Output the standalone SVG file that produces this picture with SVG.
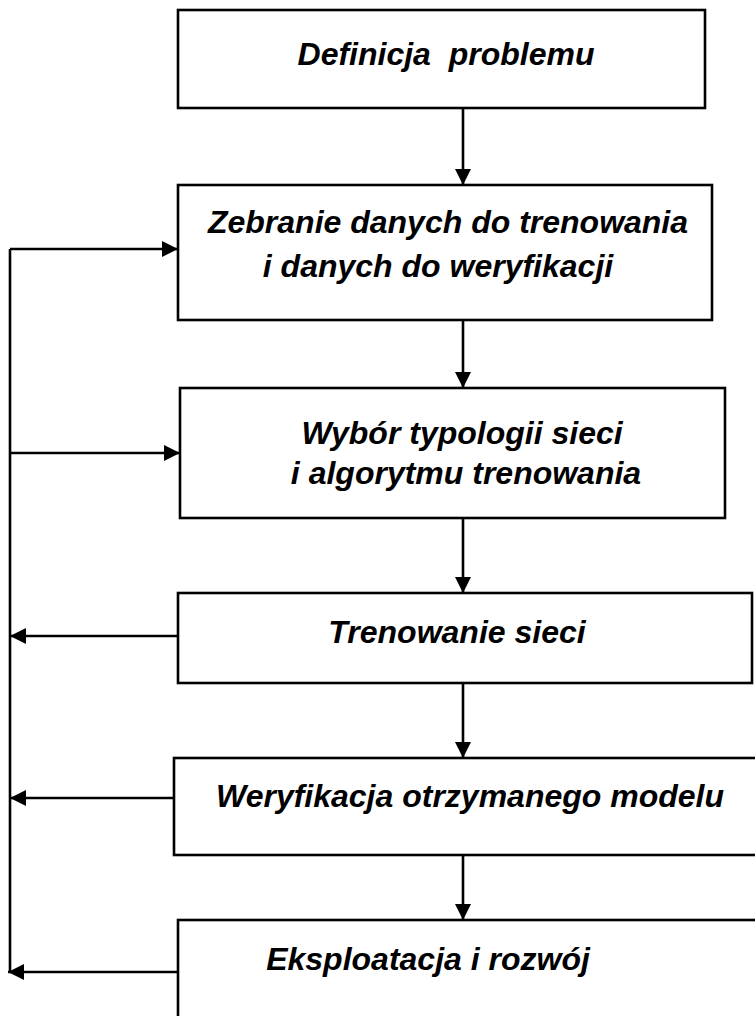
<svg xmlns="http://www.w3.org/2000/svg" width="755" height="1016" viewBox="0 0 755 1016">
  <style>
    .box { fill: #fff; stroke: #000; stroke-width: 2.6; }
    .lbl { font-family: "Liberation Sans", Arial, sans-serif; font-weight: bold; font-style: italic; font-size: 32px; fill: #000; text-anchor: middle; white-space: pre; }
    .wire { fill: none; stroke: #000; stroke-width: 2.6; }
  </style>
  <defs>
    <marker id="head" viewBox="0 0 10 10" refX="10" refY="5" markerWidth="17" markerHeight="16" markerUnits="userSpaceOnUse" orient="auto">
      <path d="M0,0 L10,5 L0,10 Z" fill="#000"/>
    </marker>
  </defs>
  <rect width="755" height="1016" fill="#fff"/>

  <g id="node-definicja">
    <rect class="box" x="178" y="10" width="527" height="98"/>
    <text class="lbl" x="446" y="65" xml:space="preserve">Definicja  problemu</text>
  </g>
  <g id="node-zebranie">
    <rect class="box" x="178" y="185" width="534" height="135"/>
    <text class="lbl" x="448" y="233">Zebranie danych do trenowania</text>
    <text class="lbl" x="438" y="277">i danych do weryfikacji</text>
  </g>
  <g id="node-wybor">
    <rect class="box" x="180" y="388" width="545" height="130"/>
    <text class="lbl" x="462" y="444">Wybór typologii sieci</text>
    <text class="lbl" x="466" y="484">i algorytmu trenowania</text>
  </g>
  <g id="node-trenowanie">
    <rect class="box" x="178" y="593" width="574" height="90"/>
    <text class="lbl" x="457" y="643">Trenowanie sieci</text>
  </g>
  <g id="node-weryfikacja">
    <rect class="box" x="174" y="758" width="590" height="97"/>
    <text class="lbl" x="470" y="807">Weryfikacja otrzymanego modelu</text>
  </g>
  <g id="node-eksploatacja">
    <rect class="box" x="178" y="920" width="590" height="110"/>
    <text class="lbl" x="428" y="970">Eksploatacja i rozwój</text>
  </g>

  <g id="connectors">
    <!-- main flow -->
    <line class="wire" x1="463" y1="108" x2="463" y2="185" marker-end="url(#head)"/>
    <line class="wire" x1="463" y1="320" x2="463" y2="388" marker-end="url(#head)"/>
    <line class="wire" x1="463" y1="518" x2="463" y2="593" marker-end="url(#head)"/>
    <line class="wire" x1="463" y1="683" x2="463" y2="758" marker-end="url(#head)"/>
    <line class="wire" x1="463" y1="855" x2="463" y2="920" marker-end="url(#head)"/>
    <!-- feedback bus -->
    <line class="wire" x1="10" y1="249" x2="10" y2="972"/>
    <line class="wire" x1="10" y1="249" x2="178" y2="249" marker-end="url(#head)"/>
    <line class="wire" x1="10" y1="453" x2="180" y2="453" marker-end="url(#head)"/>
    <line class="wire" x1="178" y1="636" x2="10" y2="636" marker-end="url(#head)"/>
    <line class="wire" x1="174" y1="798" x2="10" y2="798" marker-end="url(#head)"/>
    <line class="wire" x1="178" y1="972" x2="8" y2="972" marker-end="url(#head)"/>
  </g>
</svg>
